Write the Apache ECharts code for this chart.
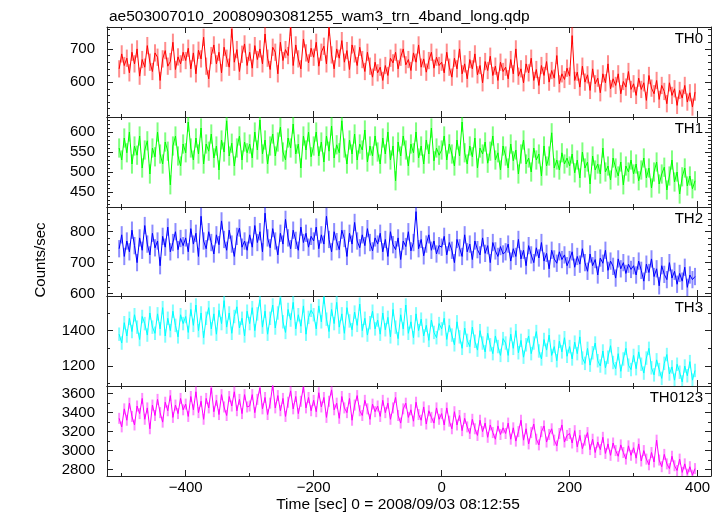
<!DOCTYPE html>
<html>
<head>
<meta charset="utf-8">
<script src="https://cdn.jsdelivr.net/npm/echarts@6/dist/echarts.min.js"></script>
<style>html,body{margin:0;padding:0;background:#fff}#c{width:724px;height:516px}</style>
</head>
<body>
<div id="c"></div>
<script>
// Time bins: t = T_START + i * T_STEP (seconds, 0 = 2008/09/03 08:12:55)
const T_START = -504;
const T_STEP = 4;

const TH0 = [
 640,685,650,672,628,690,655,700,618,668,645,710,660,632,688,675,605,670,695,648,662,720,638,676,655,690,
 665,702,640,688,625,696,670,735,648,610,680,712,655,690,628,705,672,645,760,660,698,632,684,715,650,
 690,642,710,668,700,655,745,672,638,705,690,625,720,665,698,680,765,650,712,670,640,730,688,658,702,
 675,720,648,690,708,655,765,682,640,700,672,725,660,695,638,712,685,650,705,668,632,690,648,615,660,
 628,645,605,650,620,672,658,690,640,675,700,652,668,635,688,660,712,645,670,630,665,690,642,675,650,
 660,628,690,645,615,672,640,700,625,655,610,668,640,685,622,650,598,662,635,678,620,648,605,660,632,
 645,610,668,625,700,618,640,598,655,628,672,605,638,590,650,620,662,600,635,612,680,595,625,608,642,
 618,740,605,630,585,648,600,622,575,640,595,612,568,625,598,655,580,610,590,625,565,602,585,632,578,
 595,560,612,578,598,545,620,582,565,605,548,590,572,535,598,560,580,530,575,552,590,540,568,525,570
];
const TH1 = [
 560,530,585,548,600,520,565,542,590,510,555,578,495,560,538,600,545,520,575,552,468,565,590,540,515,570,
 548,625,560,530,585,545,610,520,570,552,595,535,565,505,580,550,628,540,572,515,560,590,530,575,548,
 570,535,600,555,630,545,580,520,565,595,540,575,612,550,530,585,560,620,545,570,510,590,555,600,538,
 565,600,540,575,525,590,552,615,535,568,548,628,560,520,580,545,595,530,570,555,605,525,565,540,590,
 550,520,585,545,600,530,565,478,575,540,590,555,515,570,548,600,535,565,520,580,545,610,528,560,542,
 555,590,530,570,545,515,580,540,625,548,520,565,538,585,510,560,545,575,522,552,590,530,548,505,565,
 540,510,570,528,555,495,545,580,520,535,500,560,530,545,490,565,515,540,598,510,530,505,548,520,535,
 515,545,498,530,485,550,510,525,470,540,505,520,495,560,500,515,480,535,510,490,525,468,515,500,530,
 495,520,478,505,535,485,510,460,500,525,470,495,512,455,490,530,475,500,445,488,510,465,490,458,478
];
const TH2 = [
 745,790,720,770,735,805,755,700,780,740,820,760,725,795,748,770,690,785,750,815,735,765,800,742,778,755,
 780,735,810,760,795,720,850,770,745,800,765,728,790,758,835,775,740,805,760,720,785,812,750,770,740,
 790,750,820,765,800,735,860,780,748,810,770,725,795,760,840,780,745,805,772,740,815,765,795,750,785,
 770,815,745,790,760,850,775,735,800,768,742,805,778,720,795,760,830,770,748,790,755,810,765,738,780,
 760,795,735,775,720,800,758,742,780,710,770,752,800,738,765,865,745,775,722,760,790,740,770,728,755,
 750,785,725,765,740,700,775,748,720,790,735,760,710,770,742,725,780,730,755,700,765,738,720,752,728,
 735,760,705,745,720,775,712,740,690,755,725,700,748,715,765,705,730,680,740,712,698,735,710,725,690,
 710,735,685,720,695,745,700,672,728,690,710,660,715,698,740,675,705,688,650,712,680,700,665,695,678,
 690,660,705,675,640,695,668,712,655,680,625,690,662,645,700,650,672,630,665,640,685,620,660,645,655
];
const TH3 = [
 1380,1330,1445,1370,1470,1395,1490,1420,1350,1480,1440,1375,1500,1420,1385,1495,1410,1530,1370,1470,1400,1510,1430,1365,1490,1440,
 1480,1390,1520,1430,1545,1400,1500,1360,1470,1530,1410,1495,1380,1515,1440,1570,1420,1500,1385,1480,1535,1415,1470,1370,1510,
 1440,1530,1400,1495,1575,1420,1510,1380,1470,1545,1415,1500,1585,1450,1390,1520,1460,1560,1410,1490,1425,1540,1380,1475,1515,
 1490,1410,1540,1450,1590,1465,1395,1520,1440,1560,1420,1495,1385,1530,1455,1405,1505,1430,1550,1400,1470,1375,1445,1510,1410,
 1460,1380,1500,1405,1475,1365,1520,1420,1355,1490,1410,1545,1385,1450,1360,1495,1400,1465,1370,1430,1345,1460,1390,1360,1440,
 1410,1470,1350,1430,1375,1320,1450,1365,1300,1415,1345,1310,1420,1340,1290,1400,1330,1280,1385,1320,1270,1370,1310,1260,1355,
 1330,1260,1380,1300,1400,1275,1345,1250,1320,1370,1270,1330,1395,1285,1240,1350,1290,1375,1260,1310,1230,1340,1280,1360,1255,
 1310,1240,1335,1270,1365,1245,1215,1300,1205,1275,1330,1230,1200,1285,1190,1250,1315,1220,1185,1270,1170,1240,1300,1205,1180,
 1260,1185,1280,1210,1160,1245,1300,1190,1150,1235,1180,1130,1215,1265,1155,1195,1120,1210,1165,1110,1200,1145,1225,1120,1175
];
const TH0123 = [
 3340,3250,3440,3320,3500,3360,3270,3470,3390,3550,3330,3450,3230,3480,3370,3540,3400,3300,3510,3420,3580,3350,3480,3390,3550,3430,
 3490,3360,3570,3430,3620,3400,3520,3330,3550,3450,3660,3410,3530,3380,3590,3460,3370,3570,3470,3620,3420,3540,3390,3590,3460,
 3470,3590,3400,3540,3660,3440,3560,3380,3500,3690,3450,3580,3420,3550,3360,3510,3630,3440,3570,3390,3520,3670,3450,3560,3420,
 3530,3410,3610,3460,3560,3350,3520,3640,3430,3500,3340,3570,3450,3400,3550,3320,3480,3580,3420,3370,3530,3440,3330,3490,3410,
 3470,3360,3530,3400,3500,3330,3450,3560,3370,3290,3440,3500,3350,3430,3310,3510,3380,3320,3460,3280,3420,3350,3290,3450,3330,
 3390,3270,3450,3310,3230,3410,3270,3370,3210,3340,3250,3180,3330,3230,3160,3320,3200,3290,3140,3270,3190,3120,3260,3170,3240,
 3180,3290,3120,3240,3100,3200,3320,3110,3230,3070,3190,3280,3120,3060,3200,3260,3090,3170,3230,3110,3050,3180,3270,3090,3160,
 3180,3080,3210,3040,3160,3020,3110,3190,3010,3120,2980,3090,3010,3140,2970,3070,2950,3080,3000,2940,3060,2980,2910,3050,2950,
 3030,2920,3070,2890,3000,2910,2850,2980,2880,3110,2900,2830,2960,2860,2810,2940,2840,2790,2910,2770,2860,2750,2830,2740,2810
];
// typical 1-sigma error bar half-length per band (counts/sec)
const ERRORS = [26, 24, 28, 38, 58];

const SERIES_NAMES = ['TH0', 'TH1', 'TH2', 'TH3', 'TH0123'];
const SERIES_VALUES = [TH0, TH1, TH2, TH3, TH0123];

// axis ranges and tick labels
const X_RANGE = [-523, 421];
const X_MAJOR = [-400, -200, 0, 200, 400];
const X_MINOR = [-500, -300, -100, 100, 300];
const Y_RANGES = [[495, 766], [412.5, 637.5], [592, 880], [1087, 1596], [2732, 3681]];
const Y_MAJOR = [
  [600, 700],
  [450, 500, 550, 600],
  [600, 700, 800],
  [1200, 1400],
  [2800, 3000, 3200, 3400, 3600]
];
const Y_MINOR = [
  [500, 520, 540, 560, 580, 620, 640, 660, 680, 720, 740, 760],
  [420, 430, 440, 460, 470, 480, 490, 510, 520, 530, 540, 560, 570, 580, 590, 610, 620, 630],
  [620, 640, 660, 680, 720, 740, 760, 780, 820, 840, 860],
  [1100, 1300, 1500],
  [2900, 3100, 3300, 3500]
];

const COLORS = ['#ff0000', '#00ff00', '#0000ff', '#00ffff', '#ff00ff'];
const ERR_COLORS = ['rgba(255,0,0,0.45)', 'rgba(0,255,0,0.5)', 'rgba(0,0,255,0.45)', 'rgba(0,255,255,0.5)', 'rgba(255,0,255,0.45)'];
const GRID_TOPS = [27, 117, 207, 296, 386];
const GRID_HEIGHTS = [90, 90, 89, 90, 90];
const FONT = '"Liberation Sans", Arial, Helvetica, sans-serif';
const AX = '#222';

const grids = [], xAxes = [], yAxes = [], series = [], graphics = [];
for (let g = 0; g < 5; g++) {
  grids.push({left: 107, right: 13, top: GRID_TOPS[g], height: GRID_HEIGHTS[g]});
  const last = g === 4;
  const xa = (pos, ticks, len, line, label) => ({
    type: 'value', gridIndex: g, position: pos, min: X_RANGE[0], max: X_RANGE[1],
    axisLine: {show: line, onZero: false, lineStyle: {color: AX, width: 1}},
    axisTick: {show: true, inside: true, length: len, customValues: ticks, lineStyle: {color: AX}},
    axisLabel: {show: label, customValues: ticks, margin: 4, color: '#000', fontSize: 15, fontFamily: FONT,
      formatter: v => String(v).replace('-', '\u2212')},
    splitLine: {show: false}
  });
  xAxes.push(xa('bottom', X_MAJOR, 6, true, last));
  xAxes.push(xa('bottom', X_MINOR, 3, false, false));
  xAxes.push(xa('top', X_MAJOR, 6, true, false));
  xAxes.push(xa('top', X_MINOR, 3, false, false));
  const ya = (pos, ticks, len, line, label) => ({
    type: 'value', gridIndex: g, position: pos, min: Y_RANGES[g][0], max: Y_RANGES[g][1],
    axisLine: {show: line, onZero: false, lineStyle: {color: AX, width: 1}},
    axisTick: {show: true, inside: true, length: len, customValues: ticks, lineStyle: {color: AX}},
    axisLabel: {show: label, customValues: ticks, margin: 12, color: '#000', fontSize: 15, fontFamily: FONT,
      formatter: v => String(v)},
    splitLine: {show: false}
  });
  yAxes.push(ya('left', Y_MAJOR[g], 6, true, true));
  yAxes.push(ya('left', Y_MINOR[g], 3, false, false));
  yAxes.push(ya('right', Y_MAJOR[g], 6, true, false));
  yAxes.push(ya('right', Y_MINOR[g], 3, false, false));

  const data = SERIES_VALUES[g].map((v, i) => [T_START + i * T_STEP, v, ERRORS[g]]);
  const errColor = ERR_COLORS[g];
  series.push({
    type: 'custom', xAxisIndex: g * 4, yAxisIndex: g * 4, data: data, silent: true, clip: true, z: 2,
    encode: {x: 0, y: 1},
    renderItem: (params, api) => {
      const x = api.value(0), y = api.value(1), e = api.value(2);
      const p1 = api.coord([x, y - e]);
      const p2 = api.coord([x, y + e]);
      return {type: 'line', shape: {x1: p1[0], y1: p1[1], x2: p2[0], y2: p2[1]},
        style: {stroke: errColor, lineWidth: 2}};
    }
  });
  series.push({
    type: 'line', name: SERIES_NAMES[g], xAxisIndex: g * 4, yAxisIndex: g * 4, data: data.map(d => [d[0], d[1]]),
    showSymbol: false, symbol: 'none', lineStyle: {color: COLORS[g], width: 1}, silent: true, z: 3
  });
  graphics.push({
    type: 'text', right: 21, top: GRID_TOPS[g] + 4, z: 10,
    style: {text: SERIES_NAMES[g], fill: '#000', font: '15px ' + FONT}
  });
}

graphics.push({
  type: 'text', x: 398, y: 505, z: 10,
  style: {text: 'Time [sec] 0 = 2008/09/03 08:12:55', fill: '#000', font: '15.5px ' + FONT,
    textAlign: 'center', textVerticalAlign: 'middle'}
});
graphics.push({
  type: 'text', z: 10, x: 41, y: 260, rotation: Math.PI / 2,
  style: {text: 'Counts/sec', fill: '#000', font: '15px ' + FONT, textAlign: 'center', textVerticalAlign: 'middle'}
});

const chart = echarts.init(document.getElementById('c'), null, {renderer: 'canvas'});
chart.setOption({
  animation: false,
  backgroundColor: '#fff',
  title: {text: 'ae503007010_20080903081255_wam3_trn_4band_long.qdp', left: 104, top: 4,
    textStyle: {fontSize: 15.5, fontWeight: 'normal', color: '#000', fontFamily: FONT}},
  grid: grids, xAxis: xAxes, yAxis: yAxes, series: series, graphic: graphics
});
</script>
</body>
</html>
